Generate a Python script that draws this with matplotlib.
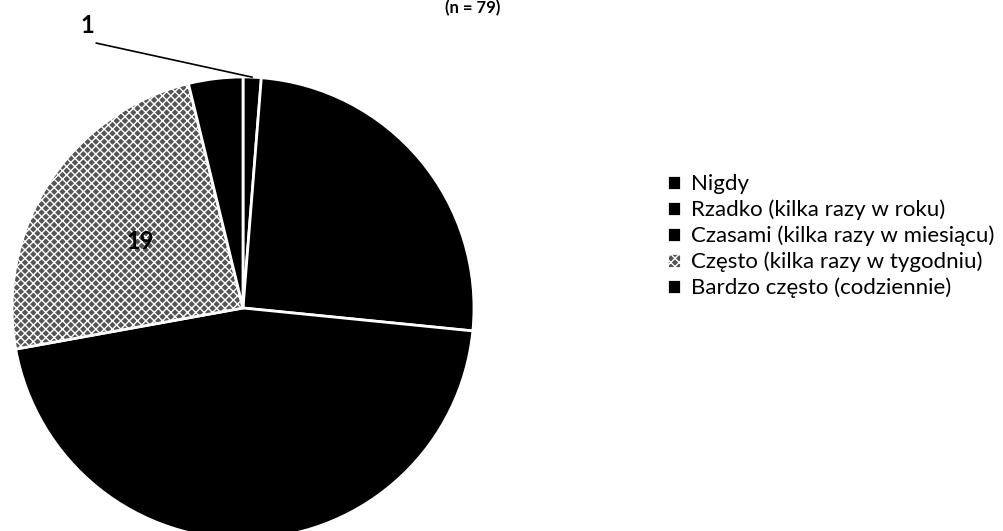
import numpy as np
import matplotlib
matplotlib.use('Agg')
import matplotlib.pyplot as plt

plt.rcParams['font.family'] = ['Lato', 'DejaVu Sans']

labels = ['Nigdy', 'Rzadko (kilka razy w roku)', 'Czasami (kilka razy w miesiącu)',
          'Często (kilka razy w tygodniu)', 'Bardzo często (codziennie)']
values = [1, 20, 36, 19, 3]
colors = ['black', 'black', 'black', '#555555', 'black']
hatches = ['', '', '', 'xxxx', '']

fig = plt.figure(figsize=(10.04, 5.31), dpi=100)
# pie centre ~ (243, 308) px, radius ~ 231 px
cx, cy, r = 243, 308, 231
ax = fig.add_axes([(cx - r) / 1004, (531 - cy - r) / 531, 2 * r / 1004, 2 * r / 531])

wedges, _ = ax.pie(values, startangle=90, counterclock=False, colors=colors,
                   wedgeprops=dict(edgecolor='white', linewidth=2))
for w, h in zip(wedges, hatches):
    if h:
        w.set_hatch(h)
ax.set_xlim(-1, 1)
ax.set_ylim(-1, 1)
ax.set_aspect('equal')
ax.axis('off')

for i, w in enumerate(wedges):
    ang = np.deg2rad((w.theta1 + w.theta2) / 2)
    if i == 0:
        # small slice: label outside with a leader line
        x0, y0 = np.cos(ang), np.sin(ang)
        ax.annotate('', xy=(x0, y0), xytext=(-0.636, 1.147), annotation_clip=False,
                    arrowprops=dict(arrowstyle='-', color='black', lw=1.2,
                                    shrinkA=0, shrinkB=0))
        ax.text(-0.675, 1.225, str(values[i]), ha='center', va='center',
                fontsize=17, fontweight='bold', clip_on=False)
    else:
        ax.text(0.53 * np.cos(ang), 0.53 * np.sin(ang), str(values[i]),
                ha='center', va='center', fontsize=17, fontweight='bold', color='black')

# title (cropped in the scan)
fig.text(473 / 1004, 1.0, '(n = 79)', ha='center', va='top',
         fontsize=12, fontweight='bold')

fig.legend(wedges, labels, loc='upper left', bbox_to_anchor=(658 / 1004, 1 - 165 / 531),
           frameon=False, fontsize=16, handlelength=0.65, handleheight=0.65,
           handletextpad=0.45, labelspacing=0.25, borderaxespad=0)

fig.savefig('out.png', dpi=100)
